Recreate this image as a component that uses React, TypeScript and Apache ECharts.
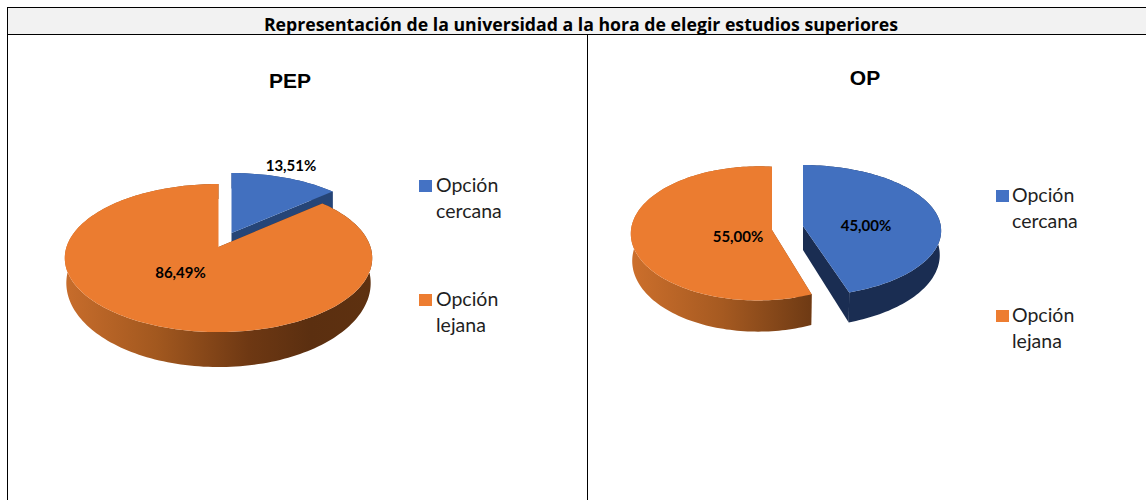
import React, { useEffect, useRef } from "react";
import * as echarts from "echarts";

const tableTitle = "Representación de la universidad a la hora de elegir estudios superiores";
const categories = ["Opción cercana", "Opción lejana"];
const chartNames = ["PEP", "OP"];
const pepValues = [13.51, 86.49];
const opValues = [45.0, 55.0];

const BLUE = "#4270BF";
const ORANGE = "#EB7C30";
const LEGEND_BLUE = "#4472C4";
const LEGEND_ORANGE = "#ED7D31";
const LABEL_FONT = "Lato, Carlito, sans-serif";

type Slice = {
  x: number; y: number; r: number; h: number; k: number; m: number;
  sx: number; sy: number; d: number;
  top: string; side: any; wall: any; lx: number; ly: number;
};

const hGrad = (x1: number, x2: number, stops: [number, string][]) => ({
  type: "linear", x: x1, y: 0, x2, y2: 0, global: true,
  colorStops: stops.map(([offset, color]) => ({ offset, color })),
});

const pepOrangeSide = hGrad(64, 372, [[0, "#C86D2C"], [0.3, "#A2581F"], [0.6, "#6E3813"], [0.8, "#5B2F10"], [1, "#5E3110"]]);
const opOrangeSide = hGrad(631, 812, [[0, "#CC6F2C"], [0.5, "#A65A21"], [1, "#6E3A14"]]);

const pepSlices: Slice[] = [
  { x: 231.5, y: 233, r: 148, h: 68.9, k: 0.149, m: 0, sx: 1, sy: 1.135, d: 23.5, top: BLUE, side: "#264577", wall: "#264577", lx: 291, ly: 165 },
  { x: 218.5, y: 247, r: 152, h: 72.4, k: 0.149, m: 0, sx: 0.99, sy: 1.135, d: 23.5, top: ORANGE, side: pepOrangeSide, wall: "#6E3813", lx: 180.5, ly: 272 },
];
const opSlices: Slice[] = [
  { x: 803, y: 226, r: 140, h: 65.4, k: 0.072, m: 0.016, sx: 0.99, sy: 1.09, d: 24, top: BLUE, side: "#1A2D52", wall: "#1A2D52", lx: 866, ly: 225 },
  { x: 772, y: 230, r: 126.2, h: 66.5, k: 0.05, m: 0.105, sx: 0.99, sy: 1.06, d: 27, top: ORANGE, side: opOrangeSide, wall: "#8A4A1C", lx: 738, ly: 236 },
];

const makeRender = (values: number[], slices: Slice[]) => (params: any, api: any) => {
  const i = params.dataIndex;
  const value = api.value(0);
  const total = values.reduce((a, b) => a + b, 0);
  const before = values.slice(0, i).reduce((a, b) => a + b, 0);
  const a0 = (before / total) * 360;
  const a1 = ((before + value) / total) * 360;
  const s = slices[i];
  const project = (deg: number) => {
    const t = (deg * Math.PI) / 180;
    const u = Math.sin(t), v = Math.cos(t);
    const q = 1 + s.k * v + s.m * u;
    return [s.x + (s.r * u) / q, s.y - (s.h * v) / q];
  };
  const lower = (p: number[]) => [s.x + (p[0] - s.x) * s.sx, s.y + (p[1] - s.y) * s.sy + s.d];
  const arc: number[][] = [];
  const steps = Math.max(8, Math.ceil((a1 - a0) / 1.5));
  for (let n = 0; n <= steps; n++) arc.push(project(a0 + ((a1 - a0) * n) / steps));
  const arcLow = arc.map(lower);
  const apex = [s.x, s.y];
  const apexLow = lower(apex);
  const first = arc[0], last = arc[arc.length - 1];
  return {
    type: "group",
    children: [
      { type: "polygon", shape: { points: [apex, first, lower(first), apexLow] }, style: { fill: s.wall } },
      { type: "polygon", shape: { points: [apex, last, lower(last), apexLow] }, style: { fill: s.wall } },
      { type: "polygon", shape: { points: [...arc, ...arcLow.slice().reverse()] }, style: { fill: s.side } },
      { type: "polygon", shape: { points: [apex, ...arc] }, style: { fill: s.top } },
      {
        type: "text",
        style: {
          x: s.lx, y: s.ly,
          text: value.toFixed(2).replace(".", ",") + "%",
          fill: "#000", fontFamily: LABEL_FONT, fontSize: 15, fontWeight: "bold",
          align: "center", verticalAlign: "middle",
        },
      },
    ],
  };
};

const legendText = (name: string, x: number, y: number) => ({
  type: "text",
  style: {
    x, y, text: name.replace(" ", "\n"), fill: "#1F1F1F",
    fontFamily: LABEL_FONT, fontSize: 19.5, lineHeight: 26,
    align: "left", verticalAlign: "top",
  },
});

const rule = (x1: number, y1: number, x2: number, y2: number) => ({
  type: "line",
  shape: { x1, y1, x2, y2 },
  style: { stroke: "#000", lineWidth: 1 },
});

const legendColors = [LEGEND_BLUE, LEGEND_ORANGE];

const buildLegend = (sqX: number, textX: number, ys: number[]) =>
  categories.flatMap((name, i) => [
    { type: "rect", shape: { x: sqX, y: ys[i] - 6, width: 13, height: 12 }, style: { fill: legendColors[i] } },
    legendText(name, textX, ys[i] - 15),
  ]);

export default function App() {
  const ref = useRef<HTMLDivElement>(null);
  useEffect(() => {
    const chart = echarts.init(ref.current!, undefined, { renderer: "svg" });
    chart.setOption({
      animation: false,
      backgroundColor: "#fff",
      series: [
        { type: "custom", name: chartNames[0], coordinateSystem: "none", silent: true, clip: false, data: pepValues.map((v) => [v]), renderItem: makeRender(pepValues, pepSlices) },
        { type: "custom", name: chartNames[1], coordinateSystem: "none", silent: true, clip: false, data: opValues.map((v) => [v]), renderItem: makeRender(opValues, opSlices) },
      ],
      graphic: [
        { type: "rect", shape: { x: 7, y: 7.5, width: 1139, height: 27 }, style: { fill: "#F2F2F2" } },
        rule(7, 7.5, 1146, 7.5),
        rule(7, 34.5, 1146, 34.5),
        rule(7.5, 7, 7.5, 500),
        rule(587.5, 34, 587.5, 500),
        {
          type: "text",
          style: { x: 581, y: 24, text: tableTitle, fill: "#000", fontFamily: "'Open Sans', sans-serif", fontSize: 17.7, fontWeight: "bold", align: "center", verticalAlign: "middle" },
        },
        {
          type: "text",
          style: { x: 290, y: 80, text: chartNames[0], fill: "#000", fontFamily: "'Liberation Sans', Arial, sans-serif", fontSize: 21, fontWeight: "bold", align: "center", verticalAlign: "middle" },
        },
        {
          type: "text",
          style: { x: 865, y: 77, text: chartNames[1], fill: "#000", fontFamily: "'Liberation Sans', Arial, sans-serif", fontSize: 21, fontWeight: "bold", align: "center", verticalAlign: "middle" },
        },
        ...buildLegend(419, 436, [186, 300]),
        ...buildLegend(996, 1012, [196, 316]),
      ],
    });
    return () => chart.dispose();
  }, []);
  return <div ref={ref} style={{ position: "fixed", left: 0, top: 0, width: 1146, height: 500 }} />;
}
